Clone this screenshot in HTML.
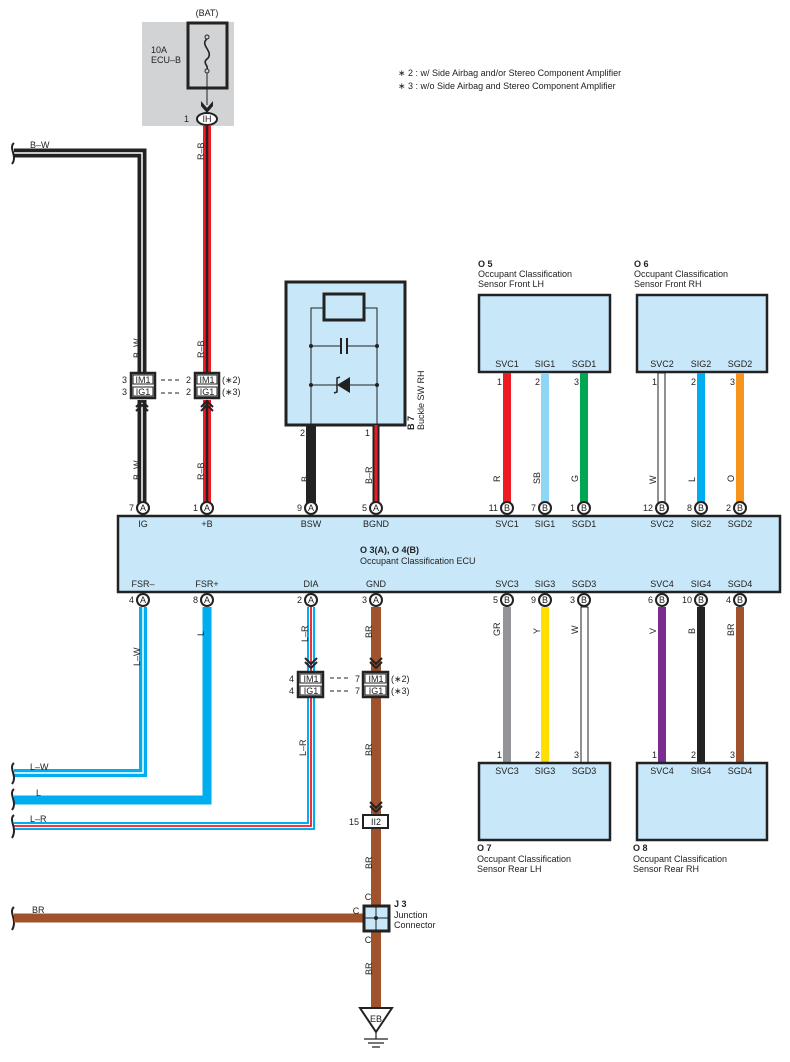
<!DOCTYPE html>
<html><head><meta charset="utf-8"><style>
html,body{margin:0;padding:0;background:#fff}
svg{display:block;font-family:"Liberation Sans",sans-serif}
text{font-size:9px;fill:#222}
</style></head><body>
<svg width="790" height="1062" viewBox="0 0 790 1062" xmlns="http://www.w3.org/2000/svg">
<defs>
<g id="chevU"><path d="M-6,6 L0,0 L6,6 M-6,10 L0,4 L6,10" fill="none" stroke="#222" stroke-width="2"/></g>
<g id="chevD"><path d="M-6,-6 L0,0 L6,-6 M-6,-10 L0,-4 L6,-10" fill="none" stroke="#222" stroke-width="2"/></g>
</defs>

<!-- Fuse area -->
<rect x="142" y="22" width="92" height="104" fill="#d1d3d4"/>
<text x="207" y="16" text-anchor="middle">(BAT)</text>
<text x="151" y="53">10A</text>
<text x="151" y="63">ECU–B</text>
<rect x="188" y="23" width="39" height="65" fill="#d1d3d4" stroke="#222" stroke-width="3"/>
<circle cx="207" cy="37" r="2" fill="none" stroke="#222"/>
<circle cx="207" cy="71" r="2" fill="none" stroke="#222"/>
<path d="M207,39 C199,45 215,52 207,59 C202,63 209,66 207,69" fill="none" stroke="#222" stroke-width="1.6"/>
<line x1="207" y1="73" x2="207" y2="105" stroke="#222"/>
<path d="M201,101 L207,108 L213,101 L213,106 L207,113 L201,106Z" fill="#222"/>
<ellipse cx="207" cy="119" rx="10" ry="6" fill="#fff" stroke="#222" stroke-width="2"/>
<text x="207" y="122" text-anchor="middle" font-size="8">IH</text>
<text x="189" y="122" text-anchor="end">1</text>

<!-- Footnotes -->
<text x="398" y="76" font-size="8">∗ 2 : w/ Side Airbag and/or Stereo Component Amplifier</text>
<text x="398" y="89" font-size="8">∗ 3 : w/o Side Airbag and Stereo Component Amplifier</text>

<!-- B-W wire -->
<path d="M14,153 H142 V373" fill="none" stroke="#222" stroke-width="9"/>
<path d="M14,153 H142 V373" fill="none" stroke="#fff" stroke-width="1.5"/>
<path d="M142,400 V508" fill="none" stroke="#222" stroke-width="9"/>
<path d="M142,400 V508" fill="none" stroke="#fff" stroke-width="1.5"/>
<path d="M14,143 C8,148 18,156 12,164" fill="none" stroke="#222" stroke-width="2"/>
<text x="30" y="148">B–W</text>

<!-- R-B wire -->
<path d="M207,126 V373 M207,400 V508" stroke="#ed1c24" stroke-width="8"/>
<path d="M207,126 V373 M207,400 V508" stroke="#222" stroke-width="2.5"/>

<!-- IM1/IG1 connectors top -->
<g stroke="#222" stroke-width="2.5" fill="#fff">
<rect x="131" y="373" width="24" height="25"/><rect x="195" y="373" width="24" height="25"/>
</g>
<g stroke="#222" stroke-width="1" fill="none">
<rect x="133" y="375" width="20" height="9"/><rect x="133" y="387" width="20" height="9"/>
<rect x="197" y="375" width="20" height="9"/><rect x="197" y="387" width="20" height="9"/>
<path d="M161,380 H181 M161,393 H181" stroke-dasharray="4,3"/>
</g>
<text x="143" y="383" text-anchor="middle" font-size="8">IM1</text>
<text x="143" y="395" text-anchor="middle" font-size="8">IG1</text>
<text x="207" y="383" text-anchor="middle" font-size="8">IM1</text>
<text x="207" y="395" text-anchor="middle" font-size="8">IG1</text>
<text x="127" y="383" text-anchor="end">3</text><text x="127" y="395" text-anchor="end">3</text>
<text x="191" y="383" text-anchor="end">2</text><text x="191" y="395" text-anchor="end">2</text>
<text x="222" y="383">(∗2)</text><text x="222" y="395">(∗3)</text>
<use href="#chevU" x="142" y="401"/><use href="#chevU" x="207" y="401"/>

<!-- rotated wire labels -->
<g font-size="9">
<text transform="translate(204,160) rotate(-90)">R–B</text>
<text transform="translate(140,358) rotate(-90)">B–W</text>
<text transform="translate(204,358) rotate(-90)">R–B</text>
<text transform="translate(140,480) rotate(-90)">B–W</text>
<text transform="translate(204,480) rotate(-90)">R–B</text>
<text transform="translate(308,482) rotate(-90)">B</text>
<text transform="translate(372,484) rotate(-90)">B–R</text>
</g>

<!-- B7 -->
<rect x="286" y="282" width="119" height="143" fill="#c8e8fa" stroke="#222" stroke-width="3"/>
<rect x="324" y="294" width="40" height="26" fill="none" stroke="#222" stroke-width="3"/>
<g stroke="#222" stroke-width="1" fill="none">
<path d="M311,425 V308 H324 M364,308 H377 V425"/>
<path d="M311,346 H340 M348,346 H377 M311,385 H377"/>
</g>
<path d="M341,338 V354 M347,338 V354" stroke="#222" stroke-width="2"/>
<path d="M350,377 L350,393 L337,385Z" fill="#222"/>
<path d="M340,377 L337,378 L337,392 L334,393" stroke="#222" fill="none" stroke-width="1.5"/>
<g fill="#222"><circle cx="311" cy="346" r="2"/><circle cx="377" cy="346" r="2"/><circle cx="311" cy="385" r="2"/><circle cx="377" cy="385" r="2"/></g>
<text transform="translate(414,430) rotate(-90)" font-weight="bold">B 7</text>
<text transform="translate(424,430) rotate(-90)">Buckle SW RH</text>
<text x="305" y="436" text-anchor="end">2</text>
<text x="370" y="436" text-anchor="end">1</text>
<line x1="311" y1="425" x2="311" y2="508" stroke="#222" stroke-width="10"/>
<line x1="376" y1="425" x2="376" y2="508" stroke="#222" stroke-width="7"/>
<line x1="376" y1="425" x2="376" y2="508" stroke="#ed1c24" stroke-width="3"/>

<!-- top sensors -->
<rect x="479" y="295" width="131" height="77" fill="#c8e8fa" stroke="#222" stroke-width="2.5"/>
<rect x="637" y="295" width="130" height="77" fill="#c8e8fa" stroke="#222" stroke-width="2.5"/>
<text x="478" y="267" font-weight="bold">O 5</text>
<text x="478" y="277">Occupant Classification</text>
<text x="478" y="287">Sensor Front LH</text>
<text x="634" y="267" font-weight="bold">O 6</text>
<text x="634" y="277">Occupant Classification</text>
<text x="634" y="287">Sensor Front RH</text>
<g text-anchor="middle">
<text x="507" y="367">SVC1</text><text x="545" y="367">SIG1</text><text x="584" y="367">SGD1</text>
<text x="662" y="367">SVC2</text><text x="701" y="367">SIG2</text><text x="740" y="367">SGD2</text>
</g>
<g stroke-width="8">
<line x1="507" y1="373" x2="507" y2="503" stroke="#ed1c24"/>
<line x1="545" y1="373" x2="545" y2="503" stroke="#8fd5f6"/>
<line x1="584" y1="373" x2="584" y2="503" stroke="#00a651"/>
<line x1="701" y1="373" x2="701" y2="503" stroke="#00aeef"/>
<line x1="740" y1="373" x2="740" y2="503" stroke="#f7941d"/>
</g>
<rect x="658" y="373" width="7" height="130" fill="#fff" stroke="#222" stroke-width="1"/>
<g>
<text x="502" y="385" text-anchor="end">1</text><text x="540" y="385" text-anchor="end">2</text><text x="579" y="385" text-anchor="end">3</text>
<text x="657" y="385" text-anchor="end">1</text><text x="696" y="385" text-anchor="end">2</text><text x="735" y="385" text-anchor="end">3</text>
<text transform="translate(500,482) rotate(-90)">R</text>
<text transform="translate(540,484) rotate(-90)">SB</text>
<text transform="translate(578,482) rotate(-90)">G</text>
<text transform="translate(656,484) rotate(-90)">W</text>
<text transform="translate(695,482) rotate(-90)">L</text>
<text transform="translate(734,482) rotate(-90)">O</text>
</g>

<!-- ECU -->
<rect x="118" y="516" width="662" height="76" fill="#c8e8fa" stroke="#222" stroke-width="2.5"/>
<g text-anchor="middle">
<text x="143" y="527">IG</text><text x="207" y="527">+B</text><text x="311" y="527">BSW</text><text x="376" y="527">BGND</text>
<text x="507" y="527">SVC1</text><text x="545" y="527">SIG1</text><text x="584" y="527">SGD1</text>
<text x="662" y="527">SVC2</text><text x="701" y="527">SIG2</text><text x="740" y="527">SGD2</text>
<text x="143" y="587">FSR–</text><text x="207" y="587">FSR+</text><text x="311" y="587">DIA</text><text x="376" y="587">GND</text>
<text x="507" y="587">SVC3</text><text x="545" y="587">SIG3</text><text x="584" y="587">SGD3</text>
<text x="662" y="587">SVC4</text><text x="701" y="587">SIG4</text><text x="740" y="587">SGD4</text>
</g>
<text x="360" y="553" font-weight="bold">O 3(A), O 4(B)</text>
<text x="360" y="564">Occupant Classification ECU</text>

<!-- pins -->
<g font-size="8" text-anchor="middle">
<g stroke="#222" stroke-width="2" fill="#fff">
<circle cx="143" cy="508" r="6"/><circle cx="207" cy="508" r="6"/><circle cx="311" cy="508" r="6"/><circle cx="376" cy="508" r="6"/>
<circle cx="507" cy="508" r="6"/><circle cx="545" cy="508" r="6"/><circle cx="584" cy="508" r="6"/>
<circle cx="662" cy="508" r="6"/><circle cx="701" cy="508" r="6"/><circle cx="740" cy="508" r="6"/>
<circle cx="143" cy="600" r="6"/><circle cx="207" cy="600" r="6"/><circle cx="311" cy="600" r="6"/><circle cx="376" cy="600" r="6"/>
<circle cx="507" cy="600" r="6"/><circle cx="545" cy="600" r="6"/><circle cx="584" cy="600" r="6"/>
<circle cx="662" cy="600" r="6"/><circle cx="701" cy="600" r="6"/><circle cx="740" cy="600" r="6"/>
</g>
<text x="143" y="511">A</text><text x="207" y="511">A</text><text x="311" y="511">A</text><text x="376" y="511">A</text>
<text x="507" y="511">B</text><text x="545" y="511">B</text><text x="584" y="511">B</text>
<text x="662" y="511">B</text><text x="701" y="511">B</text><text x="740" y="511">B</text>
<text x="143" y="603">A</text><text x="207" y="603">A</text><text x="311" y="603">A</text><text x="376" y="603">A</text>
<text x="507" y="603">B</text><text x="545" y="603">B</text><text x="584" y="603">B</text>
<text x="662" y="603">B</text><text x="701" y="603">B</text><text x="740" y="603">B</text>
</g>
<g text-anchor="end">
<text x="134" y="511">7</text><text x="198" y="511">1</text><text x="302" y="511">9</text><text x="367" y="511">5</text>
<text x="498" y="511">11</text><text x="536" y="511">7</text><text x="575" y="511">1</text>
<text x="653" y="511">12</text><text x="692" y="511">8</text><text x="731" y="511">2</text>
<text x="134" y="603">4</text><text x="198" y="603">8</text><text x="302" y="603">2</text><text x="367" y="603">3</text>
<text x="498" y="603">5</text><text x="536" y="603">9</text><text x="575" y="603">3</text>
<text x="653" y="603">6</text><text x="692" y="603">10</text><text x="731" y="603">4</text>
</g>

<!-- bottom-left wires -->
<path d="M14,773 H143 V607" fill="none" stroke="#00aeef" stroke-width="8"/>
<path d="M14,773 H143 V607" fill="none" stroke="#fff" stroke-width="1.5"/>
<path d="M14,800 H207 V607" fill="none" stroke="#00aeef" stroke-width="9"/>
<path d="M311,607 V672 M311,697 V826 H14" fill="none" stroke="#00aeef" stroke-width="8"/>
<path d="M311,607 V672 M311,697 V826 H14" fill="none" stroke="#fff" stroke-width="4"/>
<path d="M311,607 V672 M311,697 V826 H14" fill="none" stroke="#ed1c24" stroke-width="1.8"/>
<g fill="none" stroke="#222" stroke-width="2">
<path d="M14,763 C8,768 18,776 12,784"/>
<path d="M14,789 C8,794 18,802 12,810"/>
<path d="M14,815 C8,820 18,828 12,838"/>
<path d="M14,907 C8,912 18,920 12,930"/>
</g>
<text x="30" y="770">L–W</text><text x="36" y="796">L</text><text x="30" y="822">L–R</text><text x="32" y="913">BR</text>
<text transform="translate(140,666) rotate(-90)">L–W</text>
<text transform="translate(204,636) rotate(-90)">L</text>
<text transform="translate(308,642) rotate(-90)">L–R</text>
<text transform="translate(306,756) rotate(-90)">L–R</text>

<!-- BR GND wire -->
<line x1="376" y1="607" x2="376" y2="1010" stroke="#a0522d" stroke-width="10"/>
<line x1="14" y1="918" x2="364" y2="918" stroke="#a0522d" stroke-width="9"/>
<text transform="translate(372,638) rotate(-90)">BR</text>
<text transform="translate(372,756) rotate(-90)">BR</text>
<text transform="translate(372,869) rotate(-90)">BR</text>
<text transform="translate(372,975) rotate(-90)">BR</text>

<!-- bottom IM1/IG1 connectors -->
<use href="#chevD" x="311" y="668"/><use href="#chevD" x="376" y="668"/>
<g stroke="#222" stroke-width="2.5" fill="#fff">
<rect x="298" y="672" width="25" height="25"/><rect x="363" y="672" width="25" height="25"/>
</g>
<g stroke="#222" stroke-width="1" fill="none">
<rect x="300" y="674" width="21" height="9"/><rect x="300" y="686" width="21" height="9"/>
<rect x="365" y="674" width="21" height="9"/><rect x="365" y="686" width="21" height="9"/>
<path d="M330,678 H350 M330,691 H350" stroke-dasharray="4,3"/>
</g>
<text x="311" y="682" text-anchor="middle" font-size="8">IM1</text>
<text x="311" y="694" text-anchor="middle" font-size="8">IG1</text>
<text x="376" y="682" text-anchor="middle" font-size="8">IM1</text>
<text x="376" y="694" text-anchor="middle" font-size="8">IG1</text>
<text x="294" y="682" text-anchor="end">4</text><text x="294" y="694" text-anchor="end">4</text>
<text x="360" y="682" text-anchor="end">7</text><text x="360" y="694" text-anchor="end">7</text>
<text x="391" y="682">(∗2)</text><text x="391" y="694">(∗3)</text>

<!-- II2 -->
<use href="#chevD" x="376" y="812"/>
<rect x="363" y="815" width="25" height="13" fill="#fff" stroke="#222" stroke-width="2"/>
<text x="376" y="825" text-anchor="middle" font-size="8">II2</text>
<text x="359" y="825" text-anchor="end">15</text>

<!-- J3 -->
<rect x="364" y="906" width="25" height="25" fill="#c8e8fa" stroke="#222" stroke-width="3"/>
<path d="M376,906 V931 M364,918 H389" stroke="#222" stroke-width="1"/>
<circle cx="376" cy="918" r="2" fill="#222"/>
<text x="368" y="900" text-anchor="middle">C</text>
<text x="356" y="914" text-anchor="middle">C</text>
<text x="368" y="943" text-anchor="middle">C</text>
<text x="394" y="907" font-weight="bold">J 3</text>
<text x="394" y="918">Junction</text>
<text x="394" y="928">Connector</text>

<!-- ground -->
<path d="M360,1008 H392 L376,1032Z" fill="#fff" stroke="#222" stroke-width="2"/>
<text x="376" y="1022" text-anchor="middle" font-size="8">EB</text>
<path d="M376,1032 V1039 M364,1039 H388 M368,1043 H384 M372,1047 H380" stroke="#222" stroke-width="1.2"/>

<!-- bottom sensors -->
<g stroke-width="8">
<line x1="507" y1="607" x2="507" y2="763" stroke="#939598"/>
<line x1="545" y1="607" x2="545" y2="763" stroke="#ffde00"/>
<line x1="662" y1="607" x2="662" y2="763" stroke="#7b2d8e"/>
<line x1="701" y1="607" x2="701" y2="763" stroke="#222"/>
<line x1="740" y1="607" x2="740" y2="763" stroke="#a0522d"/>
</g>
<rect x="581" y="607" width="7" height="156" fill="#fff" stroke="#222" stroke-width="1"/>
<text transform="translate(500,636) rotate(-90)">GR</text>
<text transform="translate(540,634) rotate(-90)">Y</text>
<text transform="translate(578,634) rotate(-90)">W</text>
<text transform="translate(656,634) rotate(-90)">V</text>
<text transform="translate(695,634) rotate(-90)">B</text>
<text transform="translate(734,636) rotate(-90)">BR</text>
<g text-anchor="end">
<text x="502" y="758">1</text><text x="540" y="758">2</text><text x="579" y="758">3</text>
<text x="657" y="758">1</text><text x="696" y="758">2</text><text x="735" y="758">3</text>
</g>
<rect x="479" y="763" width="131" height="77" fill="#c8e8fa" stroke="#222" stroke-width="2.5"/>
<rect x="637" y="763" width="130" height="77" fill="#c8e8fa" stroke="#222" stroke-width="2.5"/>
<g text-anchor="middle">
<text x="507" y="774">SVC3</text><text x="545" y="774">SIG3</text><text x="584" y="774">SGD3</text>
<text x="662" y="774">SVC4</text><text x="701" y="774">SIG4</text><text x="740" y="774">SGD4</text>
</g>
<text x="477" y="851" font-weight="bold">O 7</text>
<text x="477" y="862">Occupant Classification</text>
<text x="477" y="872">Sensor Rear LH</text>
<text x="633" y="851" font-weight="bold">O 8</text>
<text x="633" y="862">Occupant Classification</text>
<text x="633" y="872">Sensor Rear RH</text>
</svg>
</body></html>
